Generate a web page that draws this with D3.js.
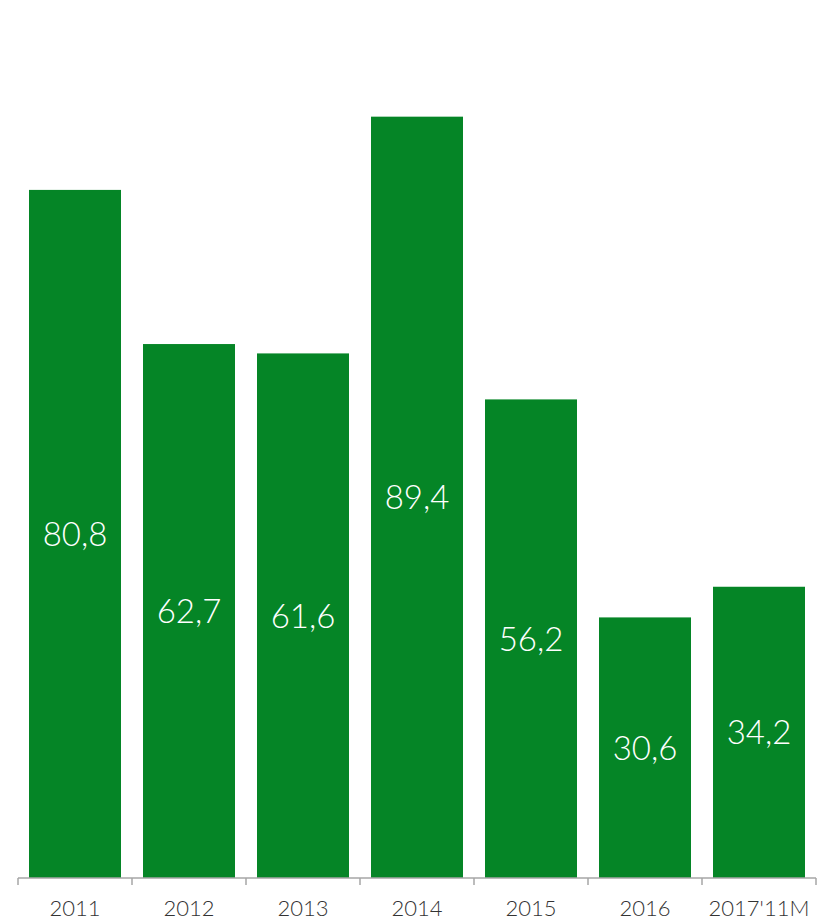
<!DOCTYPE html>
<html>
<head>
<meta charset="utf-8">
<script src="https://cdn.jsdelivr.net/npm/d3@7.9.0/dist/d3.min.js"></script>
<style>
  html, body { margin: 0; padding: 0; background: #fff; }
  svg { display: block; }
</style>
</head>
<body>
<div id="chart"></div>
<script>
const years = ['2011', '2012', '2013', '2014', '2015', '2016', "2017'11M"];
const values = [80.8, 62.7, 61.6, 89.4, 56.2, 30.6, 34.2];
const labels = ['80,8', '62,7', '61,6', '89,4', '56,2', '30,6', '34,2'];

const width = 817;
const height = 921;
const baseY = 878;

const svg = d3.select('#chart')
  .append('svg')
  .attr('width', width)
  .attr('height', height);

const x = d3.scaleBand()
  .domain(years)
  .range([18, 816])
  .paddingInner(0.193)
  .paddingOuter(0.0965);

const y = d3.scaleLinear()
  .domain([0, 103.1])
  .range([baseY, 0]);

// BARS
svg.append('g')
  .selectAll('rect')
  .data(years)
  .join('rect')
  .attr('x', d => x(d))
  .attr('y', (d, i) => y(values[i]))
  .attr('width', x.bandwidth())
  .attr('height', (d, i) => y(0) - y(values[i]))
  .attr('fill', '#058526');

// VALUE LABELS
svg.append('g')
  .selectAll('text')
  .data(years)
  .join('text')
  .attr('x', d => x(d) + x.bandwidth() / 2)
  .attr('y', (d, i) => (y(values[i]) + y(0)) / 2)
  .attr('dy', '0.36em')
  .attr('text-anchor', 'middle')
  .attr('fill', '#fff')
  .style('font-family', 'Lato, sans-serif')
  .style('font-weight', 300)
  .style('font-size', '33px')
  .text((d, i) => labels[i]);

// AXIS
const step = x.step();
const bounds = d3.range(years.length + 1).map(i => 18 + i * step);

const axis = svg.append('g').attr('stroke', '#a6a6a6').attr('stroke-width', 1.5);
axis.append('line')
  .attr('x1', 18).attr('x2', 816)
  .attr('y1', baseY).attr('y2', baseY);
axis.selectAll('line.tick')
  .data(bounds)
  .join('line')
  .attr('class', 'tick')
  .attr('x1', d => d).attr('x2', d => d)
  .attr('y1', baseY).attr('y2', baseY + 7);

svg.append('g')
  .selectAll('text')
  .data(years)
  .join('text')
  .attr('x', d => x(d) + x.bandwidth() / 2)
  .attr('y', 916)
  .attr('text-anchor', 'middle')
  .attr('fill', '#333')
  .style('font-family', 'Lato, sans-serif')
  .style('font-weight', 300)
  .style('font-size', '22px')
  .text(d => d);
</script>
</body>
</html>
